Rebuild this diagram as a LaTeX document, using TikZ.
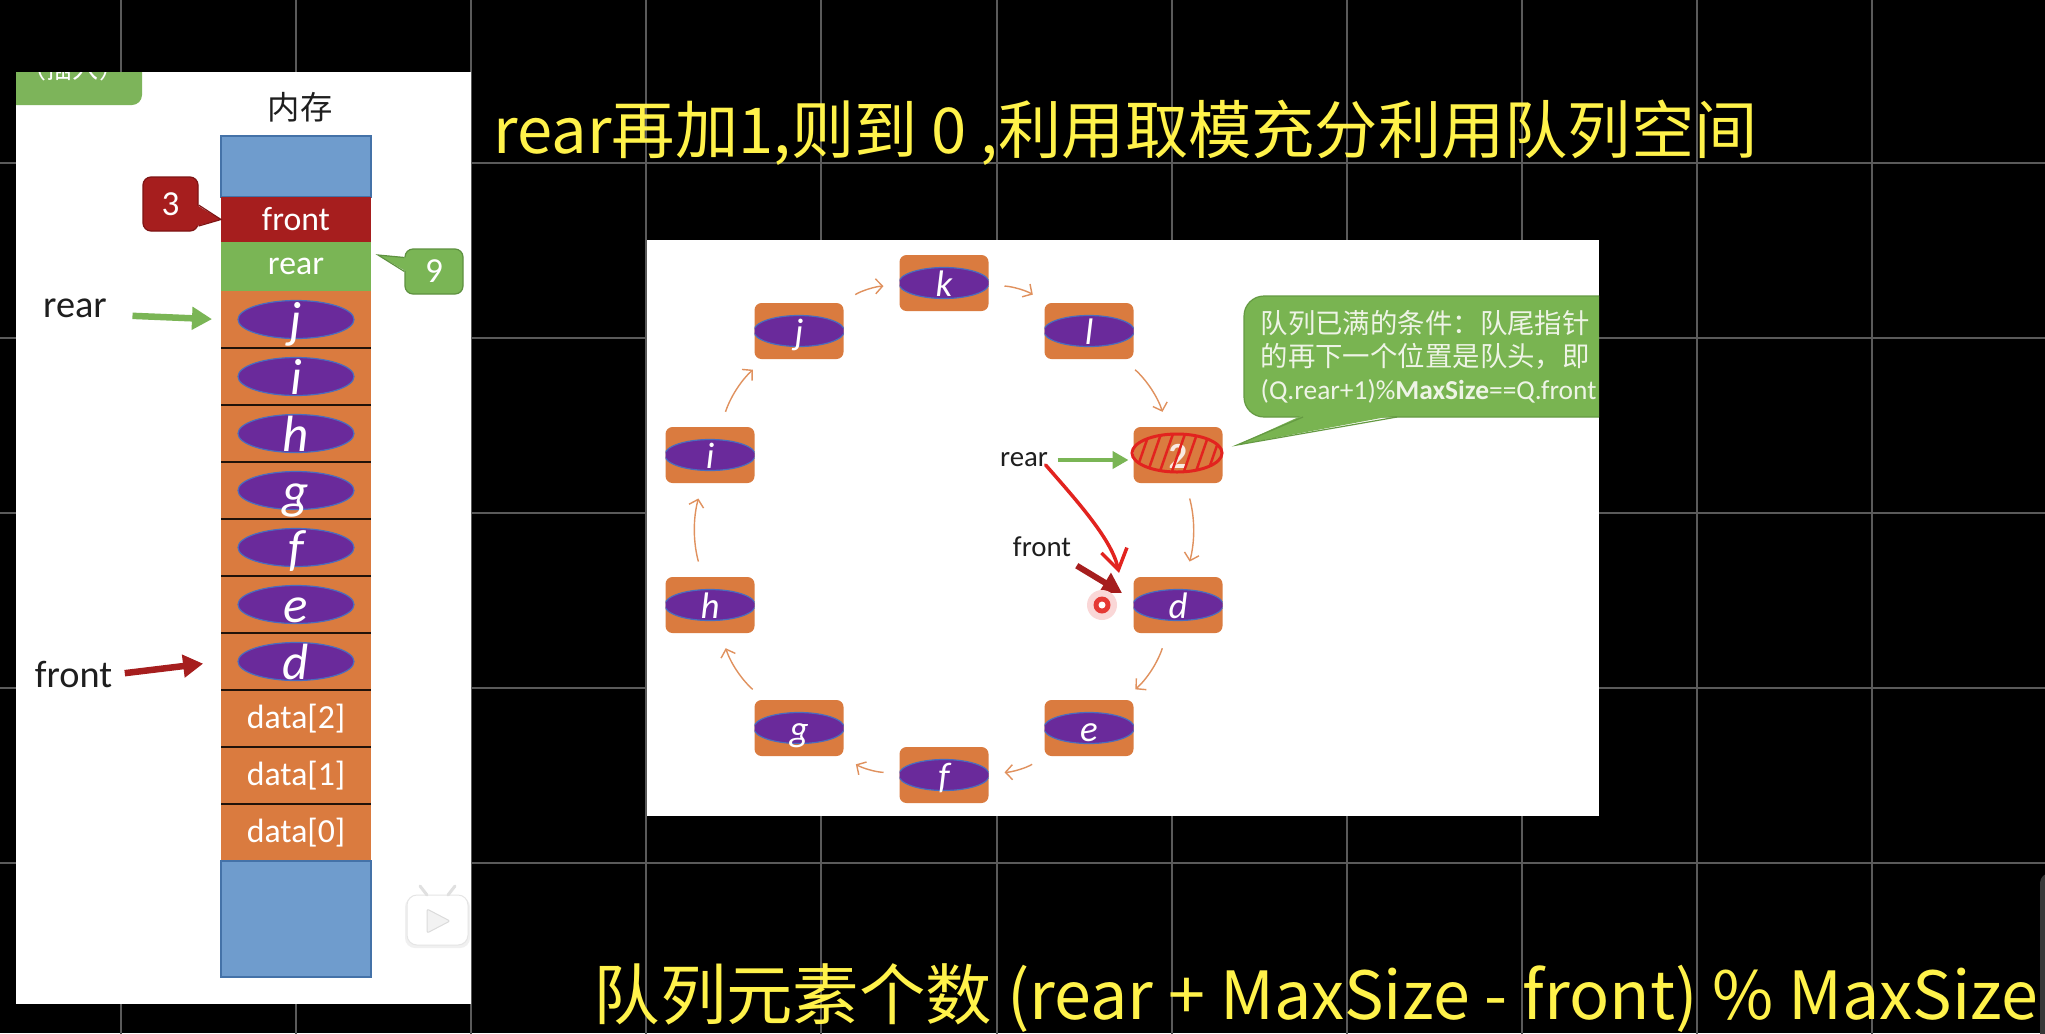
\documentclass[tikz,border=0pt]{standalone}
\usepackage{fontspec}
\setmainfont{Carlito}
\newfontfamily\cjk{Noto Sans CJK SC}
\usepackage{xcolor}
\usetikzlibrary{shapes.geometric,arrows.meta,calc}

\definecolor{gridgray}{HTML}{5A5A5A}
\definecolor{memorange}{HTML}{DA7B3F}
\definecolor{elpurple}{HTML}{6A2A9B}
\definecolor{elblue}{HTML}{4A6DBE}
\definecolor{memblue}{HTML}{6F9CCD}
\definecolor{memblueB}{HTML}{4472A8}
\definecolor{frontred}{HTML}{A61E1E}
\definecolor{frontredB}{HTML}{7E1414}
\definecolor{reargreen}{HTML}{7AB555}
\definecolor{reargreenB}{HTML}{5E9140}
\definecolor{tabgreen}{HTML}{7DB45A}
\definecolor{bubgreen}{HTML}{79B451}
\definecolor{bubgreenB}{HTML}{659A43}
\definecolor{bubtext}{HTML}{EEF4E6}
\definecolor{ringarr}{HTML}{E0915E}
\definecolor{penyellow}{HTML}{FFF24A}
\definecolor{scrawlred}{HTML}{E2231F}
\definecolor{inkgray}{HTML}{1E1E1E}

\begin{document}
\begin{tikzpicture}[
  gridline/.style={draw=gridgray, line width=0.02cm},
  cell/.style={rectangle, inner sep=0pt, outer sep=0pt, minimum width=1.50cm,
               text=white, font=\fontsize{9.6}{11}\selectfont},
  elcell/.style={cell, fill=memorange, minimum height=0.57cm,
                 font=\fontsize{14.5}{16}\selectfont\itshape,
                 text height=0.37cm, text depth=0.01cm,
                 path picture={\filldraw[fill=elpurple, draw=elblue, line width=0.012cm]
                   (path picture bounding box.center) ellipse (0.58cm and 0.19cm);}},
  sepline/.style={draw=black!85!memorange, line width=0.025cm},
  callout/.style={rectangle, rounded corners=0.08cm, line width=0.012cm, text=white,
                  font=\fontsize{10}{12}\selectfont, inner sep=0pt},
  slot/.style={rectangle, rounded corners=0.07cm, fill=memorange, inner sep=0pt, outer sep=0pt,
               minimum width=0.89cm, minimum height=0.56cm, text=white,
               font=\fontsize{10.5}{12}\selectfont\itshape,
               text height=0.28cm, text depth=0.01cm},
  elslot/.style={slot, path picture={\filldraw[fill=elpurple, draw=elblue, line width=0.012cm]
                   (path picture bounding box.center) ellipse (0.455cm and 0.155cm);}},
  cyc/.style={draw=ringarr, line width=0.014cm, -{Straight Barb[length=0.07cm, width=0.15cm]},
              shorten <=0.16cm, shorten >=0.16cm},
  lbl/.style={text=inkgray, inner sep=0.05cm},
  fatarrow/.style={line width=0.065cm, -{Triangle[length=0.2cm, width=0.22cm]}},
  hand/.style={text=penyellow, inner sep=0pt, font=\cjk\fontsize{18}{20}\selectfont},
  scrawl/.style={draw=scrawlred, line width=0.035cm, line cap=round}
]

% ─── screen: black board with grey grid ───
\useasboundingbox (0,0) rectangle (20.45,-10.33);
\clip (0,0) rectangle (20.45,-10.33);
\fill[black] (0,0) rectangle (20.45,-10.33);
\begin{scope}[shift={(1.21,-1.63)}]
  \draw[gridline, step=1.751] (-1.3,1.7) grid (19.3,-8.8);
\end{scope}
\fill[black!78, rounded corners=0.1cm] (20.40,-8.73) rectangle (20.80,-10.6);

% ─── left slide: memory column ───
\fill[white] (0.16,-0.72) rectangle (4.71,-10.04);
\begin{scope}
  \clip (0.16,-0.72) rectangle (4.71,-10.04);
  \fill[tabgreen, rounded corners=0.1cm] (0,-0.4) rectangle (1.42,-1.05);
  \node[font=\cjk\fontsize{7.4}{8}\selectfont, text=white] (tabt) at (0.73,-0.69) {（插入）};
\end{scope}
\node[font=\cjk\fontsize{9.2}{10}\selectfont, text=inkgray] (memt) at (3.00,-1.07) {内存};

\node[cell, fill=memblue, draw=memblueB, line width=0.012cm, minimum height=0.61cm] (top) at (2.96,-1.665) {};
\node[cell, fill=frontred, minimum height=0.45cm] (frnt)  at (2.96,-2.195) {front};
\node[cell, fill=reargreen, minimum height=0.49cm] (rearc) at (2.96,-2.665) {rear};
\node[elcell] (mj) at (2.96,-3.195) {j};
\node[elcell] (mi) at (2.96,-3.765) {i};
\node[elcell] (mh) at (2.96,-4.335) {h};
\node[elcell] (mg) at (2.96,-4.905) {g};
\node[elcell] (mf) at (2.96,-5.475) {f};
\node[elcell] (me) at (2.96,-6.045) {e};
\node[elcell] (md) at (2.96,-6.615) {d};
\node[cell, fill=memorange, minimum height=0.57cm] (d2) at (2.96,-7.185) {data[2]};
\node[cell, fill=memorange, minimum height=0.57cm] (d1) at (2.96,-7.755) {data[1]};
\node[cell, fill=memorange, minimum height=0.57cm] (d0) at (2.96,-8.325) {data[0]};
\node[cell, fill=memblue, draw=memblueB, line width=0.012cm, minimum height=1.16cm] (bot) at (2.96,-9.19) {};

\draw[sepline] (mj.south west) -- (mj.south east);
\draw[sepline] (mi.south west) -- (mi.south east);
\draw[sepline] (mh.south west) -- (mh.south east);
\draw[sepline] (mg.south west) -- (mg.south east);
\draw[sepline] (mf.south west) -- (mf.south east);
\draw[sepline] (me.south west) -- (me.south east);
\draw[sepline] (md.south west) -- (md.south east);
\draw[sepline] (d2.south west) -- (d2.south east);
\draw[sepline] (d1.south west) -- (d1.south east);

% callouts 3 / 9
\node[callout, fill=frontred, draw=frontredB, minimum width=0.55cm, minimum height=0.54cm] (c3) at (1.705,-2.04) {3};
\fill[frontred] ([shift={(-0.02,-0.01)}]c3.east) -- (frnt.west) -- ([shift={(-0.02,-0.22)}]c3.east) -- cycle;
\draw[frontredB, line width=0.012cm] ([yshift=-0.01cm]c3.east) -- (frnt.west) -- ([yshift=-0.22cm]c3.east);
\node[callout, fill=reargreen, draw=reargreenB, minimum width=0.58cm, minimum height=0.45cm] (c9) at (4.34,-2.715) {9};
\coordinate (c9tip) at ([shift={(0.07,-0.13)}]rearc.north east);
\fill[reargreen] ([shift={(0.02,0.14)}]c9.west) -- (c9tip) -- ([shift={(0.02,0)}]c9.west) -- cycle;
\draw[reargreenB, line width=0.012cm] ([yshift=0.14cm]c9.west) -- (c9tip) -- (c9.west);

% left pointers
\node[lbl, font=\fontsize{10.9}{12}\selectfont] (rearl)  at (0.75,-3.08) {rear};
\node[lbl, font=\fontsize{10.9}{12}\selectfont] (frontl) at (0.735,-6.74) {front};
\draw[fatarrow, draw=reargreen, shorten <=0.2cm, shorten >=0.09cm]
     ([yshift=-0.07cm]rearl.east) -- (mj.west);
\draw[fatarrow, draw=frontred, shorten <=0.07cm, shorten >=0.18cm]
     (frontl.east) -- (md.west);

% bilibili mark
\fill[black!6, rounded corners=0.1cm] (4.05,-8.97) rectangle (4.70,-9.48);
\filldraw[fill=white, draw=black!10, line width=0.01cm, rounded corners=0.1cm] (4.07,-8.95) rectangle (4.68,-9.45);
\draw[black!12, line width=0.03cm, line cap=round] (4.27,-8.95) -- (4.20,-8.86);
\draw[black!12, line width=0.03cm, line cap=round] (4.48,-8.95) -- (4.55,-8.86);
\filldraw[fill=black!5, draw=black!14, line width=0.01cm, rounded corners=0.02cm]
     (4.27,-9.09) -- (4.27,-9.33) -- (4.50,-9.21) -- cycle;

% ─── middle slide: circular queue ───
\fill[white] (6.47,-2.40) rectangle (15.99,-8.16);

\node[elslot] (qk) at (9.44,-2.83) {k};
\node[elslot] (ql) at (10.89,-3.31) {l};
\node[slot, font=\fontsize{10.5}{12}\selectfont\bfseries, text opacity=0.85] (qx) at (11.78,-4.55) {2};
\node[elslot] (qd) at (11.78,-6.05) {d};
\node[elslot] (qe) at (10.89,-7.28) {e};
\node[elslot] (qf) at (9.44,-7.75) {f};
\node[elslot] (qg) at (7.99,-7.28) {g};
\node[elslot] (qh) at (7.10,-6.05) {h};
\node[elslot] (qi) at (7.10,-4.55) {i};
\node[elslot] (qj) at (7.99,-3.31) {j};

\draw[cyc] (qk) to[bend left=15] (ql);
\draw[cyc] (ql) to[bend left=15] (qx);
\draw[cyc] (qx) to[bend left=15] (qd);
\draw[cyc] (qd) to[bend left=15] (qe);
\draw[cyc] (qe) to[bend left=15] (qf);
\draw[cyc] (qf) to[bend left=15] (qg);
\draw[cyc] (qg) to[bend left=15] (qh);
\draw[cyc] (qh) to[bend left=15] (qi);
\draw[cyc] (qi) to[bend left=15] (qj);
\draw[cyc] (qj) to[bend left=15] (qk);

% scribbled-out slot
\begin{scope}
  \clip ([shift={(-0.01,0.02)}]qx.center) ellipse (0.45cm and 0.19cm);
  \foreach \dx in {-0.36,-0.24,-0.12,0,0.12,0.24,0.36}
    \draw[scrawl, line width=0.025cm] ($(qx)+(\dx-0.08,-0.22)$) -- ++(0.16,0.46);
\end{scope}
\draw[scrawl, line width=0.03cm] ([shift={(-0.01,0.02)}]qx.center) ellipse (0.45cm and 0.19cm);

% rear / front pointers
\node[lbl, font=\fontsize{8.2}{10}\selectfont] (rlbl) at (10.24,-4.60) {rear};
\node[lbl, font=\fontsize{8.2}{10}\selectfont] (flbl) at (10.42,-5.47) {front};
\draw[draw=reargreen, line width=0.045cm, -{Triangle[length=0.16cm, width=0.17cm]},
      shorten <=0.04cm, shorten >=0.05cm] (rlbl.east) -- (rlbl.east -| qx.west);
\draw[scrawl, -{Straight Barb[length=0.2cm, width=0.26cm]}]
     ([shift={(-0.08,-0.05)}]rlbl.east) .. controls (10.78,-5.02) and (11.12,-5.40)
     .. ([shift={(-0.145,0.04)}]qd.north west);
\draw[fatarrow, draw=frontred, line width=0.06cm]
     ([shift={(0.0,-0.03)}]flbl.south east) -- ([shift={(-0.115,0.12)}]qd.west);

% laser dot
\coordinate (dot) at (11.02,-6.05);
\fill[scrawlred!18] (dot) circle (0.15cm);
\fill[scrawlred!90] (dot) circle (0.085cm);
\fill[white] (dot) circle (0.035cm);

% speech bubble (cut by slide edge)
\begin{scope}
  \clip (6.47,-2.40) rectangle (15.99,-8.16);
  \filldraw[fill=bubgreen, draw=bubgreenB, line width=0.012cm, rounded corners=0.2cm]
       (12.44,-2.96) rectangle (16.4,-4.17);
  \fill[bubgreen] (13.03,-4.15) -- (12.37,-4.45) -- (13.97,-4.15) -- cycle;
  \draw[bubgreenB, line width=0.012cm] (13.03,-4.17) -- (12.37,-4.45) -- (13.97,-4.17);
  \node[anchor=north west, inner sep=0pt, align=left, text=bubtext,
        font=\fontsize{7.8}{9.4}\selectfont] (cond) at (12.60,-3.10)
       {{\cjk 队列已满的条件：队尾指针}\\{\cjk 的再下一个位置是队头，即}\\(Q.rear+1)\%\textbf{MaxSize}==Q.front};
\end{scope}

% ─── handwritten notes ───
\node[hand, anchor=west] (title) at (4.93,-1.33) {rear再加1,则到 0 ,利用取模充分利用队列空间};
\node[hand, anchor=west, font=\cjk\fontsize{18.9}{21}\selectfont] (count) at (5.93,-9.98)
     {队列元素个数 (rear + MaxSize - front) \% MaxSize};

\end{tikzpicture}
\end{document}
